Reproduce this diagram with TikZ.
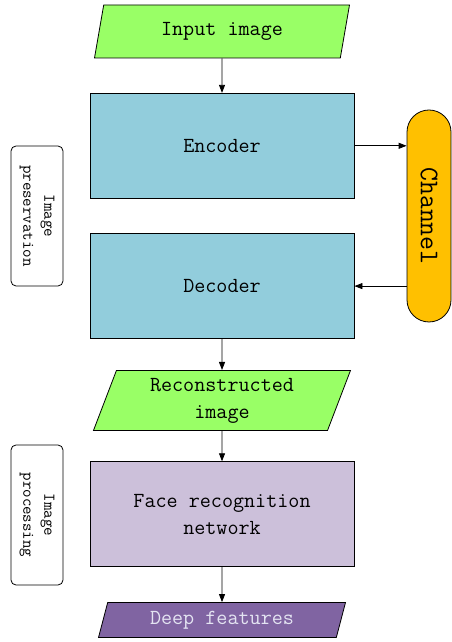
\documentclass[tikz,border=0pt]{standalone}
\usetikzlibrary{shapes.geometric, arrows.meta, positioning}
\definecolor{iogreen}{RGB}{153,255,102}
\definecolor{codeblue}{RGB}{146,205,220}
\definecolor{netlilac}{RGB}{204,192,218}
\definecolor{featpurple}{RGB}{128,100,162}
\definecolor{chanorange}{RGB}{255,192,0}
\definecolor{feattext}{RGB}{228,228,242}
\begin{document}
\begin{tikzpicture}[x=1pt, y=1pt, line width=0.8pt, >={Triangle[length=8pt,width=6pt]},
    main/.style = {draw, align=center, inner sep=0pt, font=\ttfamily\fontsize{21.5}{27}\selectfont},
    io/.style = {main, trapezium, trapezium left angle=63, trapezium right angle=117, trapezium stretches body, fill=iogreen},
    block/.style = {main, rectangle, minimum width=264pt, minimum height=105pt},
    side/.style = {draw, rounded corners=5pt, rotate=-90, minimum width=140pt, minimum height=52pt, align=center, font=\ttfamily\fontsize{16.5}{21}\selectfont},
    chan/.style = {draw, fill=chanorange, rounded corners=22pt, rotate=-90, minimum width=212pt, minimum height=44pt, font=\ttfamily\fontsize{27}{27}\selectfont}]
    \useasboundingbox (0,0) rectangle (452,642);
    \node[io, minimum width=255pt, minimum height=53pt] (1) at (222,610.5) {Input image};
    \node[block, fill=codeblue] (2) [below=34.5pt of 1] {Encoder};
    \node[block, fill=codeblue] (3) [below=34.5pt of 2] {Decoder};
    \node[io, minimum width=257pt, minimum height=60pt] (4) [below=31pt of 3] {Reconstructed\\image};
    \node[block, fill=netlilac] (5) [below=30.5pt of 4] {Face recognition\\network};
    \node[io, fill=featpurple, text=feattext, minimum width=247pt, minimum height=35pt] (6) [below=35pt of 5] {Deep features};
    \node[chan] (7) at (429,426) {Channel};
    \node[side] (8) at (37,426) {Image\\preservation};
    \node[side] (9) at (37,127) {Image\\processing};

    \draw[->] (1) to (2);
    \draw[->] (2.east) to (2.east -| 7.south);
    \draw[->] (3.east -| 7.south) to (3.east);
    \draw[->] (3) to (4);
    \draw[->] (4) to (5);
    \draw[->] (5) to (6);
\end{tikzpicture}
\end{document}
